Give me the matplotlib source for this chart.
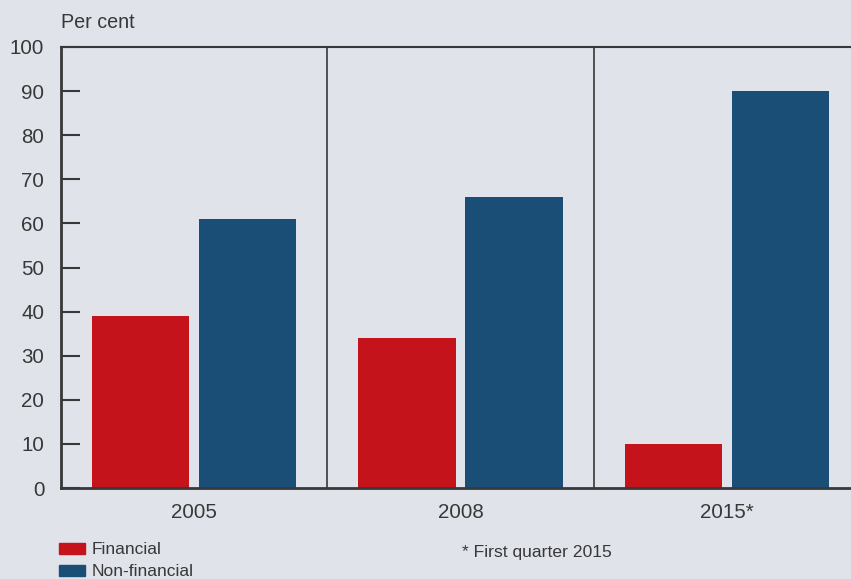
import numpy as np
import matplotlib.pyplot as plt
from matplotlib.patches import Patch

# shares of the total, per cent
years = ["2005", "2008", "2015*"]
financial = [39, 34, 10]
non_financial = [61, 66, 90]
yticks = [0, 10, 20, 30, 40, 50, 60, 70, 80, 90, 100]

bg = "#e0e3ea"
red = "#c4131b"
blue = "#1b4e77"
ink = "#383838"

plt.rcParams["font.family"] = ["Liberation Sans", "DejaVu Sans"]

fig = plt.figure(figsize=(8.51, 5.79), dpi=100, facecolor=bg)
W, H = 851, 579
ax = fig.add_axes([61 / W, 1 - 488 / H, (860 - 61) / W, (488 - 47) / H])
ax.set_facecolor(bg)

x = np.arange(len(years)) + 0.5
width = 0.365
ax.bar(x - 0.201, financial, width, color=red)
ax.bar(x + 0.201, non_financial, width, color=blue)

# separators between the year groups
for b in range(1, len(years)):
    ax.axvline(b, color=ink, lw=1.2)

ax.set_xlim(0, len(years))
ax.set_ylim(0, 100)
ax.set_yticks(yticks)
ax.set_xticks(x)
ax.set_xticklabels(years)
ax.tick_params(axis="y", direction="in", length=13.7, width=1.5, color=ink,
               labelsize=14.8, labelcolor=ink, pad=12)
ax.tick_params(axis="x", length=0, labelsize=14.8, labelcolor=ink, pad=11)

for side in ["left", "bottom", "top"]:
    ax.spines[side].set_color(ink)
    ax.spines[side].set_linewidth(2)
ax.spines["top"].set_linewidth(1.5)
ax.spines["right"].set_visible(False)

fig.text(61 / W, 1 - 22 / H, "Per cent", fontsize=14.2, color=ink, va="center")

handles = [Patch(color=red, label="Financial"), Patch(color=blue, label="Non-financial")]
fig.legend(handles=handles, loc="upper left", bbox_to_anchor=(54 / W, 1 - 537 / H),
           frameon=False, fontsize=12.5, labelcolor=ink, handlelength=1.5,
           handleheight=0.6, handletextpad=0.35, labelspacing=0.4,
           borderaxespad=0, borderpad=0.3)

fig.text(462 / W, 1 - 553 / H, "* First quarter 2015", fontsize=12.6, color=ink, va="center")

fig.savefig("out.png", dpi=100, facecolor=bg)
